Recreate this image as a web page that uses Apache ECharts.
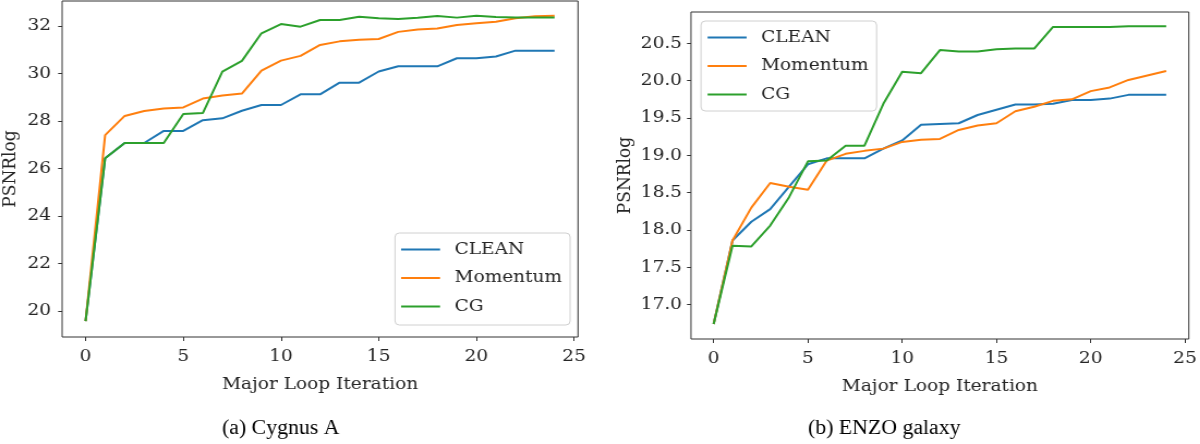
<!DOCTYPE html>
<html>
<head>
<meta charset="utf-8">
<script src="https://cdn.jsdelivr.net/npm/echarts@6.0.0/dist/echarts.min.js"></script>
<style>
  html, body { margin: 0; padding: 0; background: #fff; overflow: hidden; }
  #wrap { width: 1200px; height: 444px; overflow: hidden; }
  #chart { height: 444px; transform-origin: 0 0; }
</style>
</head>
<body>
<div id="wrap"><div id="chart"></div></div>
<script>
// ---- data ----
const iterations = [0,1,2,3,4,5,6,7,8,9,10,11,12,13,14,15,16,17,18,19,20,21,22,23,24];
const seriesNames = ['CLEAN', 'Momentum', 'CG'];

// (a) Cygnus A
const cygCLEAN    = [19.57,26.43,27.07,27.07,27.58,27.58,28.03,28.11,28.43,28.67,28.67,29.12,29.12,29.61,29.61,30.08,30.30,30.30,30.30,30.64,30.64,30.71,30.96,30.96,30.96];
const cygMomentum = [19.57,27.40,28.21,28.42,28.52,28.57,28.94,29.07,29.15,30.12,30.54,30.74,31.20,31.35,31.42,31.45,31.75,31.85,31.89,32.04,32.11,32.18,32.32,32.41,32.43];
const cygCG       = [19.57,26.43,27.07,27.07,27.07,28.29,28.33,30.08,30.53,31.69,32.08,31.97,32.25,32.25,32.39,32.32,32.29,32.34,32.42,32.35,32.43,32.38,32.36,32.36,32.35];

// (b) ENZO galaxy
const enzoCLEAN    = [16.74,17.86,18.11,18.28,18.58,18.88,18.96,18.96,18.96,19.09,19.20,19.41,19.42,19.43,19.54,19.61,19.68,19.68,19.69,19.74,19.74,19.76,19.81,19.81,19.81];
const enzoMomentum = [16.74,17.86,18.30,18.63,18.58,18.54,18.93,19.02,19.06,19.09,19.18,19.21,19.22,19.34,19.40,19.43,19.59,19.65,19.73,19.75,19.86,19.91,20.01,20.07,20.13];
const enzoCG       = [16.74,17.79,17.78,18.06,18.44,18.92,18.93,19.13,19.13,19.69,20.12,20.10,20.41,20.39,20.39,20.42,20.43,20.43,20.72,20.72,20.72,20.72,20.73,20.73,20.73];

const xTicks = [0,5,10,15,20,25];
const yTicksA = [20,22,24,26,28,30,32];
const yTicksB = [17.0,17.5,18.0,18.5,19.0,19.5,20.0,20.5];

const xAxisName = 'Major Loop Iteration';
const yAxisName = 'PSNRlog';
const captionA = '(a) Cygnus A';
const captionB = '(b) ENZO galaxy';

// ---- chart ----
// the reference figure is stretched horizontally; reproduce with a uniform x-scale
const S = 1.09;
const X = v => v / S;
const colors = ['#1f77b4', '#ff7f0e', '#2ca02c'];
const FONT = 'DejaVu Serif';
const TXT = '#262626';

const el = document.getElementById('chart');
el.style.width = X(1200) + 'px';
el.style.transform = 'scaleX(' + S + ')';

function pairs(arr) { return iterations.map((x, i) => [x, arr[i]]); }

function xAxisCfg(gridIndex) {
  return {
    type: 'value', gridIndex, min: -1.2, max: 25.2,
    name: xAxisName, nameLocation: 'middle', nameGap: 39,
    nameTextStyle: { fontFamily: FONT, fontSize: 17, color: TXT },
    axisLine: { show: false, onZero: false },
    axisTick: { show: true, length: 4, customValues: xTicks, lineStyle: { color: '#333' } },
    axisLabel: { customValues: xTicks, fontFamily: FONT, fontSize: 17, color: TXT, margin: 11 },
    splitLine: { show: false }
  };
}
function yAxisCfg(gridIndex, min, max, ticks, dec, gap, margin) {
  return {
    type: 'value', gridIndex, min, max,
    name: yAxisName, nameLocation: 'middle', nameGap: gap, nameRotate: 90,
    nameTextStyle: { fontFamily: FONT, fontSize: 17, color: TXT },
    axisLine: { show: false, onZero: false },
    axisTick: { show: true, length: X(4), customValues: ticks, lineStyle: { color: '#333' } },
    axisLabel: { customValues: ticks, fontFamily: FONT, fontSize: 17, color: TXT, margin,
      formatter: v => v.toFixed(dec) },
    splitLine: { show: false }
  };
}
function lineSeries(name, data, idx, axisIdx) {
  return {
    name, type: 'line', data: pairs(data), xAxisIndex: axisIdx, yAxisIndex: axisIdx,
    symbol: 'none', showSymbol: false, smooth: false, animation: false,
    lineStyle: { width: 2, color: colors[idx] }, itemStyle: { color: colors[idx] }
  };
}
function legendCfg(left, top, padding) {
  return {
    orient: 'vertical', left, top, data: seriesNames,
    itemWidth: X(39), itemHeight: 14, itemGap: 11.5,
    itemStyle: { opacity: 0 },
    backgroundColor: '#fff', borderColor: '#d0d0d0', borderWidth: 1, borderRadius: 4,
    padding,
    textStyle: { fontFamily: FONT, fontSize: 17, color: TXT, padding: [0, 0, 0, X(9)] },
    selectedMode: false
  };
}

const chart = echarts.init(el, null, { renderer: 'canvas' });
chart.setOption({
  animation: false,
  backgroundColor: '#fff',
  color: colors,
  grid: [
    { left: X(62), top: 1, width: X(516), height: 336, show: true, borderColor: '#333', borderWidth: 1, backgroundColor: 'transparent' },
    { left: X(691), top: 12, width: X(503), height: 327, show: true, borderColor: '#333', borderWidth: 1, backgroundColor: 'transparent' }
  ],
  xAxis: [xAxisCfg(0), xAxisCfg(1)],
  yAxis: [yAxisCfg(0, 18.9, 33.05, yTicksA, 0, 39, X(11)), yAxisCfg(1, 16.54, 20.92, yTicksB, 1, 51.5, X(9))],
  legend: [
    legendCfg(X(395), 233, [8, X(8), 10, X(5)]),
    legendCfg(X(701), 21, [8, X(8), 8, X(5.5)])
  ],
  series: [
    lineSeries('CLEAN', cygCLEAN, 0, 0),
    lineSeries('Momentum', cygMomentum, 1, 0),
    lineSeries('CG', cygCG, 2, 0),
    lineSeries('CLEAN', enzoCLEAN, 0, 1),
    lineSeries('Momentum', enzoMomentum, 1, 1),
    lineSeries('CG', enzoCG, 2, 1)
  ],
  graphic: [
    { type: 'text', left: X(222), top: 419, style: { text: captionA, font: '20px "Liberation Serif"', fill: '#000' } },
    { type: 'text', left: X(808), top: 419, style: { text: captionB, font: '20px "Liberation Serif"', fill: '#000' } }
  ]
});
</script>
</body>
</html>
